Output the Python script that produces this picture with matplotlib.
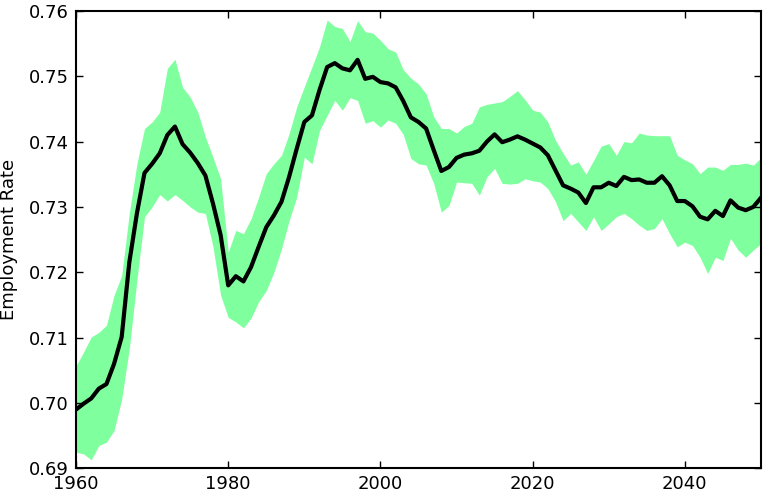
import matplotlib
matplotlib.use("Agg")
import matplotlib.pyplot as plt
import numpy as np

years = list(range(1960, 2051))

mean_rate = [
    0.6990, 0.6999, 0.7007, 0.7022, 0.7029, 0.7060, 0.7101, 0.7215, 0.7290, 0.7352,
    0.7366, 0.7382, 0.7410, 0.7423, 0.7396, 0.7383, 0.7367, 0.7348, 0.7305, 0.7257,
    0.7180, 0.7194, 0.7186, 0.7208, 0.7239, 0.7269, 0.7287, 0.7308, 0.7346, 0.7389,
    0.7430, 0.7440, 0.7479, 0.7514, 0.7520, 0.7512, 0.7509, 0.7525, 0.7496, 0.7499,
    0.7491, 0.7489, 0.7483, 0.7462, 0.7437, 0.7430, 0.7420, 0.7387, 0.7355, 0.7361,
    0.7375, 0.7380, 0.7382, 0.7386, 0.7400, 0.7411, 0.7399, 0.7403, 0.7408, 0.7403,
    0.7397, 0.7391, 0.7379, 0.7356, 0.7333, 0.7328, 0.7322, 0.7306, 0.7330, 0.7330,
    0.7337, 0.7332, 0.7346, 0.7341, 0.7342, 0.7337, 0.7337, 0.7347, 0.7333, 0.7309,
    0.7309, 0.7301, 0.7285, 0.7281, 0.7294, 0.7286, 0.7310, 0.7299, 0.7295, 0.7300,
    0.7314,
]

upper_rate = [
    0.7057, 0.7078, 0.7101, 0.7108, 0.7119, 0.7165, 0.7195, 0.7290, 0.7366, 0.7420,
    0.7430, 0.7445, 0.7512, 0.7526, 0.7483, 0.7468, 0.7445, 0.7407, 0.7376, 0.7343,
    0.7231, 0.7264, 0.7259, 0.7282, 0.7315, 0.7351, 0.7366, 0.7379, 0.7412, 0.7453,
    0.7484, 0.7514, 0.7545, 0.7586, 0.7576, 0.7573, 0.7553, 0.7585, 0.7568, 0.7566,
    0.7555, 0.7542, 0.7537, 0.7510, 0.7497, 0.7488, 0.7473, 0.7438, 0.7420, 0.7420,
    0.7413, 0.7423, 0.7428, 0.7453, 0.7457, 0.7459, 0.7461, 0.7469, 0.7478, 0.7464,
    0.7448, 0.7445, 0.7430, 0.7402, 0.7382, 0.7364, 0.7369, 0.7350, 0.7371, 0.7393,
    0.7397, 0.7379, 0.7400, 0.7398, 0.7413, 0.7410, 0.7409, 0.7409, 0.7409, 0.7379,
    0.7372, 0.7366, 0.7351, 0.7361, 0.7361, 0.7356, 0.7365, 0.7365, 0.7367, 0.7364,
    0.7375,
]

lower_rate = [
    0.6925, 0.6922, 0.6913, 0.6935, 0.6940, 0.6958, 0.7006, 0.7083, 0.7188, 0.7285,
    0.7300, 0.7319, 0.7309, 0.7319, 0.7310, 0.7300, 0.7292, 0.7290, 0.7239, 0.7165,
    0.7131, 0.7124, 0.7115, 0.7130, 0.7155, 0.7172, 0.7200, 0.7236, 0.7279, 0.7315,
    0.7376, 0.7366, 0.7417, 0.7440, 0.7463, 0.7448, 0.7467, 0.7463, 0.7428, 0.7432,
    0.7422, 0.7433, 0.7428, 0.7411, 0.7374, 0.7366, 0.7364, 0.7336, 0.7292, 0.7302,
    0.7338, 0.7337, 0.7336, 0.7318, 0.7346, 0.7359, 0.7336, 0.7335, 0.7336, 0.7343,
    0.7340, 0.7338, 0.7328, 0.7308, 0.7279, 0.7290, 0.7277, 0.7264, 0.7285, 0.7264,
    0.7274, 0.7285, 0.7290, 0.7282, 0.7272, 0.7264, 0.7267, 0.7282, 0.7259, 0.7239,
    0.7246, 0.7241, 0.7223, 0.7198, 0.7223, 0.7218, 0.7252, 0.7234, 0.7223, 0.7234,
    0.7244,
]

x_ticks = [1960, 1980, 2000, 2020, 2040]
y_ticks = [0.69, 0.70, 0.71, 0.72, 0.73, 0.74, 0.75, 0.76]
y_label = "Employment Rate"

plt.rcParams['font.family'] = ['DejaVu Sans']
fig = plt.figure(figsize=(7.64, 4.93), dpi=100)
ax = fig.add_axes([0.0995, 0.050, 0.8965, 0.928])

ax.fill_between(years, lower_rate, upper_rate, color='#80ff9f', linewidth=0)
ax.plot(years, mean_rate, color='black', linewidth=3)

ax.set_xlim(1960, 2050)
ax.set_ylim(0.69, 0.76)
ax.set_xticks(x_ticks)
ax.set_yticks(y_ticks)
ax.set_yticklabels([f"{v:.2f}" for v in y_ticks])
ax.tick_params(direction='in', length=5, width=1, top=True, right=True,
               labelsize=13, pad=5)
for s in ax.spines.values():
    s.set_linewidth(1.5)
ax.set_ylabel(y_label, fontsize=13, labelpad=8)

fig.savefig("out.png", dpi=100)
